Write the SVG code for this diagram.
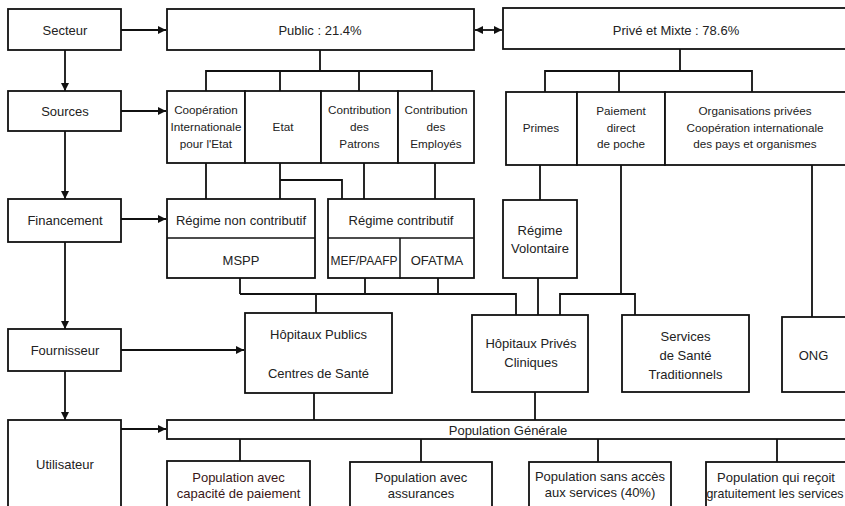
<svg xmlns="http://www.w3.org/2000/svg" width="845" height="506" viewBox="0 0 845 506">
<style>
rect{fill:#fff;stroke:#111;stroke-width:1.8}
.c line,.c path{stroke:#111;stroke-width:1.8;fill:none}
.a{marker-end:url(#ah)}
.d{marker-end:url(#ah);marker-start:url(#as)}
text{font-family:"Liberation Sans",Arial,sans-serif;font-size:13px;fill:#222;text-anchor:middle}
text.s{font-size:11.7px}
text.n{font-size:12px}
.div{stroke:#111;stroke-width:1.5}
</style>
<defs>
<marker id="ah" viewBox="0 0 10 10" refX="10" refY="5" markerWidth="10" markerHeight="8" markerUnits="userSpaceOnUse" orient="auto"><path d="M0,0L10,5L0,10z" fill="#111"/></marker>
<marker id="as" viewBox="0 0 10 10" refX="0" refY="5" markerWidth="10" markerHeight="8" markerUnits="userSpaceOnUse" orient="auto"><path d="M10,0L0,5L10,10z" fill="#111"/></marker>
</defs>
<g class="c" id="connectors">
<line class="a" x1="65" y1="50" x2="65" y2="91"/>
<line class="a" x1="65" y1="131" x2="65" y2="199"/>
<line class="a" x1="65" y1="242" x2="65" y2="329"/>
<line class="a" x1="65" y1="371" x2="65" y2="420"/>
<line class="a" x1="121" y1="30" x2="166" y2="30"/>
<line class="a" x1="121" y1="111" x2="166" y2="111"/>
<line class="a" x1="121" y1="219" x2="166" y2="219"/>
<line class="a" x1="121" y1="350" x2="244" y2="350"/>
<line class="a" x1="121" y1="429" x2="166" y2="429"/>
<line class="d" x1="475" y1="30" x2="502" y2="30"/>
<path d="M320,50V71M206,91V71H432V91M280,71V91M359,71V91"/>
<path d="M680,49V71M545,92V71H752V92M619,71V92"/>
<path d="M206,163V199M280,163V199M280,180H342V199M364,163V199M435,163V199"/>
<path d="M540,165V200M621,165V294M560,315V294H635V315M812,165V317"/>
<path d="M240,278V294M365,278V294M438,278V294M240,294H516V315M316,294V313M538,278V315"/>
<path d="M314,393V420M535,392V420"/>
<path d="M240,439V461M421,439V462M598,439V462M777,439V462"/>
</g>
<g id="secteur"><rect x="8" y="9" width="113" height="41"/><text x="65" y="35">Secteur</text></g>
<g id="sources"><rect x="8" y="91" width="113" height="40"/><text x="65" y="116">Sources</text></g>
<g id="financement"><rect x="8" y="199" width="113" height="43"/><text x="65" y="225">Financement</text></g>
<g id="fournisseur"><rect x="8" y="329" width="113" height="42"/><text x="65" y="355">Fournisseur</text></g>
<g id="utilisateur"><rect x="8" y="420" width="113" height="95"/><text x="65" y="469">Utilisateur</text></g>
<g id="public"><rect x="167" y="9" width="307" height="41"/><text x="320" y="35">Public : 21.4%</text></g>
<g id="prive"><rect x="503" y="8" width="345" height="41"/><text x="676" y="35">Privé et Mixte : 78.6%</text></g>
<g id="cooperation"><rect x="167" y="91" width="78" height="72"/><text class="s" x="206" y="114">Coopération</text><text class="s" x="206" y="131">Internationale</text><text class="s" x="206" y="148">pour l'Etat</text></g>
<g id="etat"><rect x="245" y="91" width="76" height="72"/><text class="s" x="283" y="131">Etat</text></g>
<g id="patrons"><rect x="321" y="91" width="77" height="72"/><text class="s" x="359.5" y="114">Contribution</text><text class="s" x="359.5" y="131">des</text><text class="s" x="359.5" y="148">Patrons</text></g>
<g id="employes"><rect x="398" y="91" width="76" height="72"/><text class="s" x="436" y="114">Contribution</text><text class="s" x="436" y="131">des</text><text class="s" x="436" y="148">Employés</text></g>
<g id="primes"><rect x="506" y="92" width="71" height="73"/><text class="s" x="541" y="132">Primes</text></g>
<g id="paiement"><rect x="577" y="92" width="88" height="73"/><text class="s" x="621" y="115">Paiement</text><text class="s" x="621" y="132">direct</text><text class="s" x="621" y="148">de poche</text></g>
<g id="organisations"><rect x="665" y="92" width="183" height="73"/><text class="s" x="755" y="115">Organisations privées</text><text class="s" x="755" y="132">Coopération internationale</text><text class="s" x="755" y="148">des pays et organismes</text></g>
<g id="regime-non-contributif"><rect x="167" y="199" width="148" height="79"/><line class="div" x1="167" y1="238" x2="315" y2="238"/><text x="241" y="225">Régime non contributif</text><text x="241" y="265">MSPP</text></g>
<g id="regime-contributif"><rect x="328" y="199" width="146" height="79"/><line class="div" x1="328" y1="238" x2="474" y2="238"/><line class="div" x1="400" y1="238" x2="400" y2="279"/><text x="401" y="225">Régime contributif</text><text class="n" x="364" y="265">MEF/PAAFP</text><text x="437" y="265">OFATMA</text></g>
<g id="regime-volontaire"><rect x="503" y="200" width="74" height="78"/><text x="540" y="235">Régime</text><text x="540" y="253">Volontaire</text></g>
<g id="hopitaux-publics"><rect x="245" y="313" width="147" height="80"/><text x="318.5" y="339">Hôpitaux Publics</text><text x="318.5" y="378">Centres de Santé</text></g>
<g id="hopitaux-prives"><rect x="472" y="315" width="116" height="77"/><text x="531" y="348">Hôpitaux Privés</text><text x="531" y="367">Cliniques</text></g>
<g id="services-traditionnels"><rect x="622" y="315" width="127" height="77"/><text x="685.5" y="341">Services</text><text x="685.5" y="360">de Santé</text><text x="685.5" y="379">Traditionnels</text></g>
<g id="ong"><rect x="782" y="317" width="64" height="75"/><text x="813.5" y="360">ONG</text></g>
<g id="population-generale"><rect x="167" y="420" width="681" height="19"/><text x="508" y="435">Population Générale</text></g>
<g id="pop-paiement"><rect x="167" y="461" width="143" height="55"/><text x="238.5" y="482" style="fill:#3a1616">Population avec</text><text x="238.5" y="498" style="fill:#3a1616">capacité de paiement</text></g>
<g id="pop-assurances"><rect x="350" y="462" width="142" height="54"/><text x="421" y="482">Population avec</text><text x="421" y="498">assurances</text></g>
<g id="pop-sans-acces"><rect x="529" y="462" width="142" height="54"/><text x="600" y="481">Population sans accès</text><text x="600" y="497">aux services (40%)</text></g>
<g id="pop-gratuit"><rect x="706" y="462" width="142" height="54"/><text x="776" y="482">Population qui reçoit</text><text x="775" y="498" style="font-size:12.4px">gratuitement les services</text></g>
</svg>
